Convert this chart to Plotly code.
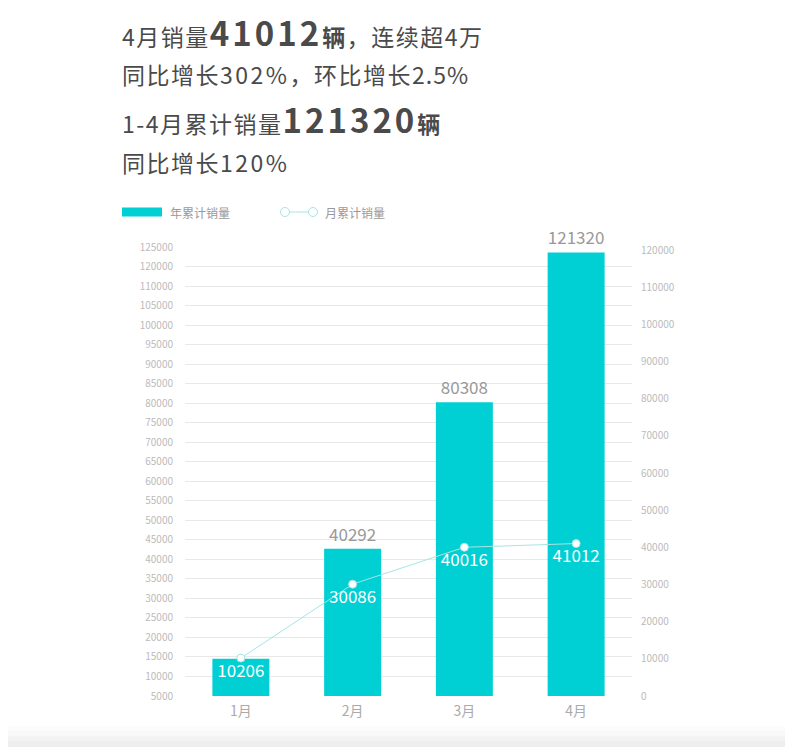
import plotly.graph_objects as go

months = ['1月', '2月', '3月', '4月']
cumulative = [10206, 40292, 80308, 121320]   # 年累计销量
monthly = [10206, 30086, 40016, 41012]       # 月累计销量

# left axis labels as printed on the chart (115000 is missing in the original)
left_labels = ['5000', '10000', '15000', '20000', '25000', '30000', '35000', '40000',
	'45000', '50000', '55000', '60000', '65000', '70000', '75000', '80000', '85000',
	'90000', '95000', '100000', '105000', '110000', '120000', '125000']
right_ticks = [0, 10000, 20000, 30000, 40000, 50000, 60000, 70000, 80000, 90000,
	100000, 110000, 120000]

headline = [
	"4月销量<b><span style='font-size:33px;letter-spacing:3px'>41012</span>辆</b>，连续超4万",
	"同比增长<span style='letter-spacing:2.5px'>302%</span>，环比增长<span style='letter-spacing:1px'>2.5%</span>",
	"1-4月累计销量<b><span style='font-size:33px;letter-spacing:3px'>121320</span>辆</b>",
	"同比增长<span style='letter-spacing:2.5px'>120%</span>",
]

W, H = 793, 747
OFF = 8   # page body margin: reference pixels are shifted by this much
L, R, T, B = 185 - OFF, 632 - OFF, 247 - OFF, 696 - OFF
FONT = 'Noto Sans CJK SC'
TEAL = '#00d0d4'
LINE = '#a6e4e6'
LEFT_TOP = 122800   # value at the top of the bar axis

def px_x(x):
	return (x - OFF - L) / (R - L)

def px_y(y):
	return (B - (y - OFF)) / (B - T)

fig = go.Figure()

bar_text = [str(v) for v in cumulative]
bar_text[0] = ''   # the first bar carries only the monthly label in the original

fig.add_trace(go.Bar(
	x=months, y=cumulative, name='年累计销量',
	marker=dict(color=TEAL, line=dict(width=0)),
	text=bar_text, textposition='outside',
	textfont=dict(color='#999999', size=17, family=FONT),
	cliponaxis=False, showlegend=False,
))

fig.add_trace(go.Scatter(
	x=months, y=monthly, name='月累计销量', yaxis='y2',
	mode='lines+markers+text',
	line=dict(color=LINE, width=1),
	marker=dict(color='white', size=8, line=dict(color=LINE, width=1)),
	text=[str(v) for v in monthly], textposition='bottom center',
	textfont=dict(color='white', size=17, family=FONT),
	cliponaxis=False, showlegend=False,
))

# printed labels sit on evenly spaced grid lines
n = len(left_labels)
left_vals = [LEFT_TOP * i / (n - 1) for i in range(n)]

fig.update_layout(
	width=W, height=H,
	margin=dict(l=L, r=W - R, t=T, b=H - B, autoexpand=False),
	paper_bgcolor='white', plot_bgcolor='white',
	font=dict(family=FONT, color='#999999'),
	bargap=0.49,
	showlegend=False,
	xaxis=dict(
		showgrid=False, showline=False, ticks='',
		tickfont=dict(size=14, color='#aaaaaa'),
		ticklabelstandoff=5,
	),
	yaxis=dict(
		range=[0, LEFT_TOP],
		tickvals=left_vals, ticktext=left_labels,
		showgrid=True, gridcolor='#e8e8e8', gridwidth=1,
		zeroline=False, showline=False, ticks='',
		tickfont=dict(size=10, color='#bbbbbb'),
		ticklabelstandoff=11,
	),
	yaxis2=dict(
		overlaying='y', side='right',
		range=[0, 120000 * (B - T) / 446],
		tickvals=right_ticks, tickformat='d',
		showgrid=False, zeroline=False, showline=False, ticks='',
		tickfont=dict(size=10, color='#bbbbbb'),
		ticklabelstandoff=8,
	),
)

ys = [32, 74, 119, 162]
for txt, yy in zip(headline, ys):
	fig.add_annotation(
		text="<span style='letter-spacing:1.5px'>" + txt + "</span>",
		xref='paper', yref='paper', x=px_x(120), y=px_y(yy),
		xanchor='left', yanchor='middle', showarrow=False,
		font=dict(size=23, color='#4a4a4a', family=FONT),
	)

# legend drawn by hand: wide bar swatch and a line with two hollow circles
ly = px_y(212)
fig.add_shape(type='rect', xref='paper', yref='paper',
	x0=px_x(122), x1=px_x(162), y0=px_y(216.5), y1=px_y(207.5),
	fillcolor=TEAL, line=dict(width=0))
fig.add_annotation(text='年累计销量', xref='paper', yref='paper', x=px_x(168), y=ly,
	xanchor='left', yanchor='middle', showarrow=False,
	font=dict(size=12, color='#999999', family=FONT))
fig.add_shape(type='line', xref='paper', yref='paper',
	x0=px_x(289), x1=px_x(309), y0=ly, y1=ly, line=dict(color=LINE, width=1))
for cx in (285, 313):
	fig.add_shape(type='circle', xref='paper', yref='paper',
		x0=px_x(cx - 4.5), x1=px_x(cx + 4.5), y0=px_y(216.5), y1=px_y(207.5),
		fillcolor='white', line=dict(color=LINE, width=1))
fig.add_annotation(text='月累计销量', xref='paper', yref='paper', x=px_x(323), y=ly,
	xanchor='left', yanchor='middle', showarrow=False,
	font=dict(size=12, color='#999999', family=FONT))

# soft grey shadow along the bottom edge
for i, c in enumerate(['#fcfcfc', '#f8f8f8', '#f3f3f3', '#eeeeee']):
	fig.add_shape(type='rect', xref='paper', yref='paper',
		x0=px_x(-20), x1=px_x(820), y0=px_y(760), y1=px_y(726 + i * 5),
		fillcolor=c, line=dict(width=0), layer='below')

fig.write_html("out.html")
